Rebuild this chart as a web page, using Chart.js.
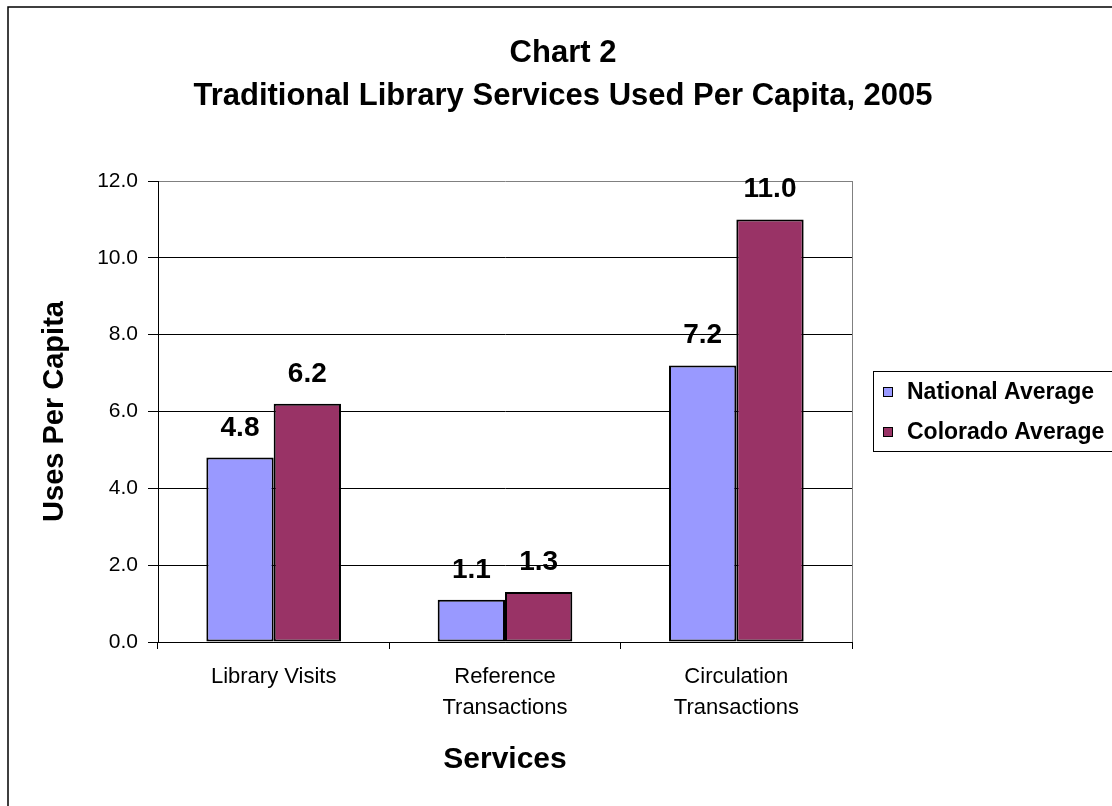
<!DOCTYPE html>
<html>
<head>
<meta charset="utf-8">
<script src="https://cdn.jsdelivr.net/npm/chart.js@4/dist/chart.umd.min.js"></script>
<style>
  html, body { margin: 0; padding: 0; background: #fff; }
  #wrap { position: relative; width: 1112px; height: 806px; }
</style>
</head>
<body>
<div id="wrap"><canvas id="chart2" width="1112" height="806"></canvas></div>
<script>
// ── data ──────────────────────────────────────────────────────────────────────
const categories = [['Library Visits'], ['Reference', 'Transactions'], ['Circulation', 'Transactions']];
const nationalAvg = [4.8, 1.1, 7.2];
const coloradoAvg = [6.2, 1.3, 11.0];
const seriesNames = ['National Average', 'Colorado Average'];
const seriesColors = ['#9999FF', '#993366'];
const yTicks = { min: 0, max: 12, step: 2 };
const titleLines = ['Chart 2', 'Traditional Library Services Used Per Capita, 2005'];

const FONT = '"Liberation Sans", Arial, sans-serif';

// frame, titles, right border, value labels and legend box (Excel look)
const excelDecor = {
    id: 'excelDecor',
    afterDraw(chart) {
        const ctx = chart.ctx;
        const area = chart.chartArea;
        ctx.save();

        // outer chart frame (runs off the right / bottom edge)
        ctx.strokeStyle = '#000';
        ctx.lineWidth = 1.5;
        ctx.strokeRect(8, 7, 1200, 1000);

        // right edge of the plot area is grey
        ctx.strokeStyle = '#808080';
        ctx.lineWidth = 1;
        ctx.beginPath();
        ctx.moveTo(Math.round(area.right) + 0.5, area.top);
        ctx.lineTo(Math.round(area.right) + 0.5, area.bottom);
        ctx.stroke();

        // titles
        ctx.fillStyle = '#000';
        ctx.textAlign = 'center';
        ctx.textBaseline = 'alphabetic';
        ctx.font = 'bold 31px ' + FONT;
        ctx.fillText(titleLines[0], 563, 62);
        ctx.fillText(titleLines[1], 563, 105);

        // value labels above bars
        ctx.font = 'bold 28px ' + FONT;
        chart.data.datasets.forEach((ds, di) => {
            chart.getDatasetMeta(di).data.forEach((bar, i) => {
                ctx.fillText(ds.data[i].toFixed(1), bar.x, bar.y - 22);
            });
        });

        // legend
        const lx = 873, ly = 371;
        ctx.strokeStyle = '#000';
        ctx.lineWidth = 1;
        ctx.strokeRect(lx + 0.5, ly + 0.5, 400, 80);
        ctx.textAlign = 'left';
        ctx.textBaseline = 'middle';
        ctx.font = 'bold 23px ' + FONT;
        chart.data.datasets.forEach((ds, di) => {
            const cy = ly + 21 + di * 40;
            ctx.fillStyle = ds.backgroundColor;
            ctx.fillRect(lx + 10, cy - 5, 9, 9);
            ctx.strokeStyle = '#000';
            ctx.strokeRect(lx + 10.5, cy - 4.5, 9, 9);
            ctx.fillStyle = '#000';
            ctx.fillText(ds.label, lx + 34, cy + 1);
        });
        ctx.restore();
    }
};

new Chart(document.getElementById('chart2'), {
    type: 'bar',
    data: {
        labels: categories,
        datasets: [
            { label: seriesNames[0], data: nationalAvg, backgroundColor: seriesColors[0] },
            { label: seriesNames[1], data: coloradoAvg, backgroundColor: seriesColors[1] }
        ]
    },
    options: {
        responsive: false,
        animation: false,
        layout: { padding: { top: 181, left: 20, right: 260, bottom: 16 } },
        datasets: {
            bar: {
                categoryPercentage: 0.582,
                barPercentage: 1,
                borderColor: '#000',
                borderWidth: 2,
                borderSkipped: false
            }
        },
        plugins: {
            legend: { display: false },
            tooltip: { enabled: false }
        },
        scales: {
            x: {
                afterFit: s => { s.height = 148; },
                ticks: {
                    color: '#000',
                    padding: 12,
                    maxRotation: 0,
                    font: { family: FONT, size: 22, lineHeight: 1.42 }
                },
                grid: {
                    drawOnChartArea: false,
                    tickLength: 7,
                    color: '#000',
                    lineWidth: 1
                },
                border: { color: '#000', width: 1 },
                title: {
                    display: true,
                    text: 'Services',
                    color: '#000',
                    padding: { top: 0, bottom: 12 },
                    font: { family: FONT, size: 30, weight: 'bold', lineHeight: 1.2 }
                }
            },
            y: {
                min: yTicks.min,
                max: yTicks.max,
                afterFit: s => { s.width = 138; },
                ticks: {
                    stepSize: yTicks.step,
                    color: '#000',
                    padding: 10,
                    font: { family: FONT, size: 21 },
                    callback: v => v.toFixed(1)
                },
                grid: {
                    tickLength: 10,
                    tickColor: '#000',
                    color: ctx => ctx.tick && ctx.tick.value === yTicks.max ? '#808080' : '#000',
                    lineWidth: 1
                },
                border: { color: '#000', width: 1 },
                title: {
                    display: true,
                    text: 'Uses Per Capita',
                    color: '#000',
                    padding: { top: 18, bottom: 0 },
                    font: { family: FONT, size: 29, weight: 'bold', lineHeight: 1.2 }
                }
            }
        }
    },
    plugins: [excelDecor]
});
</script>
</body>
</html>
